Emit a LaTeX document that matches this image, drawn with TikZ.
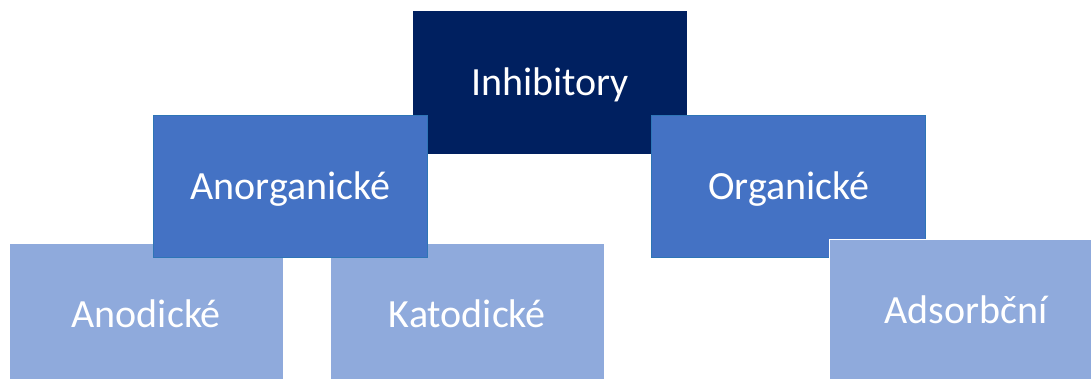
\documentclass[tikz,border=0pt]{standalone}
\usepackage{fontspec}
\setmainfont{Carlito}
\definecolor{navy}{HTML}{002060}
\definecolor{midblue}{HTML}{4472C4}
\definecolor{midedge}{HTML}{2E75B6}
\definecolor{lightblue}{HTML}{8FAADC}
\tikzset{
  box/.style={rectangle, anchor=north west, inner sep=0pt, outer sep=0pt,
    minimum width=205.5pt, minimum height=106.8pt, text=white,
    font=\fontsize{30}{36}\selectfont, text height=19.3pt, text depth=0pt, align=center},
  topbox/.style={box, fill=navy},
  midbox/.style={box, fill=midblue, draw=midedge, line width=0.6pt},
  lowbox/.style={box, fill=lightblue, draw=white, line width=0.4pt},
}
\begin{document}
\begin{tikzpicture}[x=0.75pt, y=-0.75pt]
\useasboundingbox (0,0) rectangle (1091,378);
\clip (0,0) rectangle (1091,378);
\node[topbox] (inh) at (413,11.5) {Inhibitory};
\node[lowbox] (ano) at (9.3,243.3) {Anodické};
\node[lowbox] (kat) at (330.3,243.3) {Katodické};
\node[midbox] (anorg) at (153.3,115.3) {Anorganické};
\node[midbox] (org) at (651.7,115.3) {Organické};
\node[lowbox] (ads) at (829,239.3) {Adsorbční};
\end{tikzpicture}
\end{document}
